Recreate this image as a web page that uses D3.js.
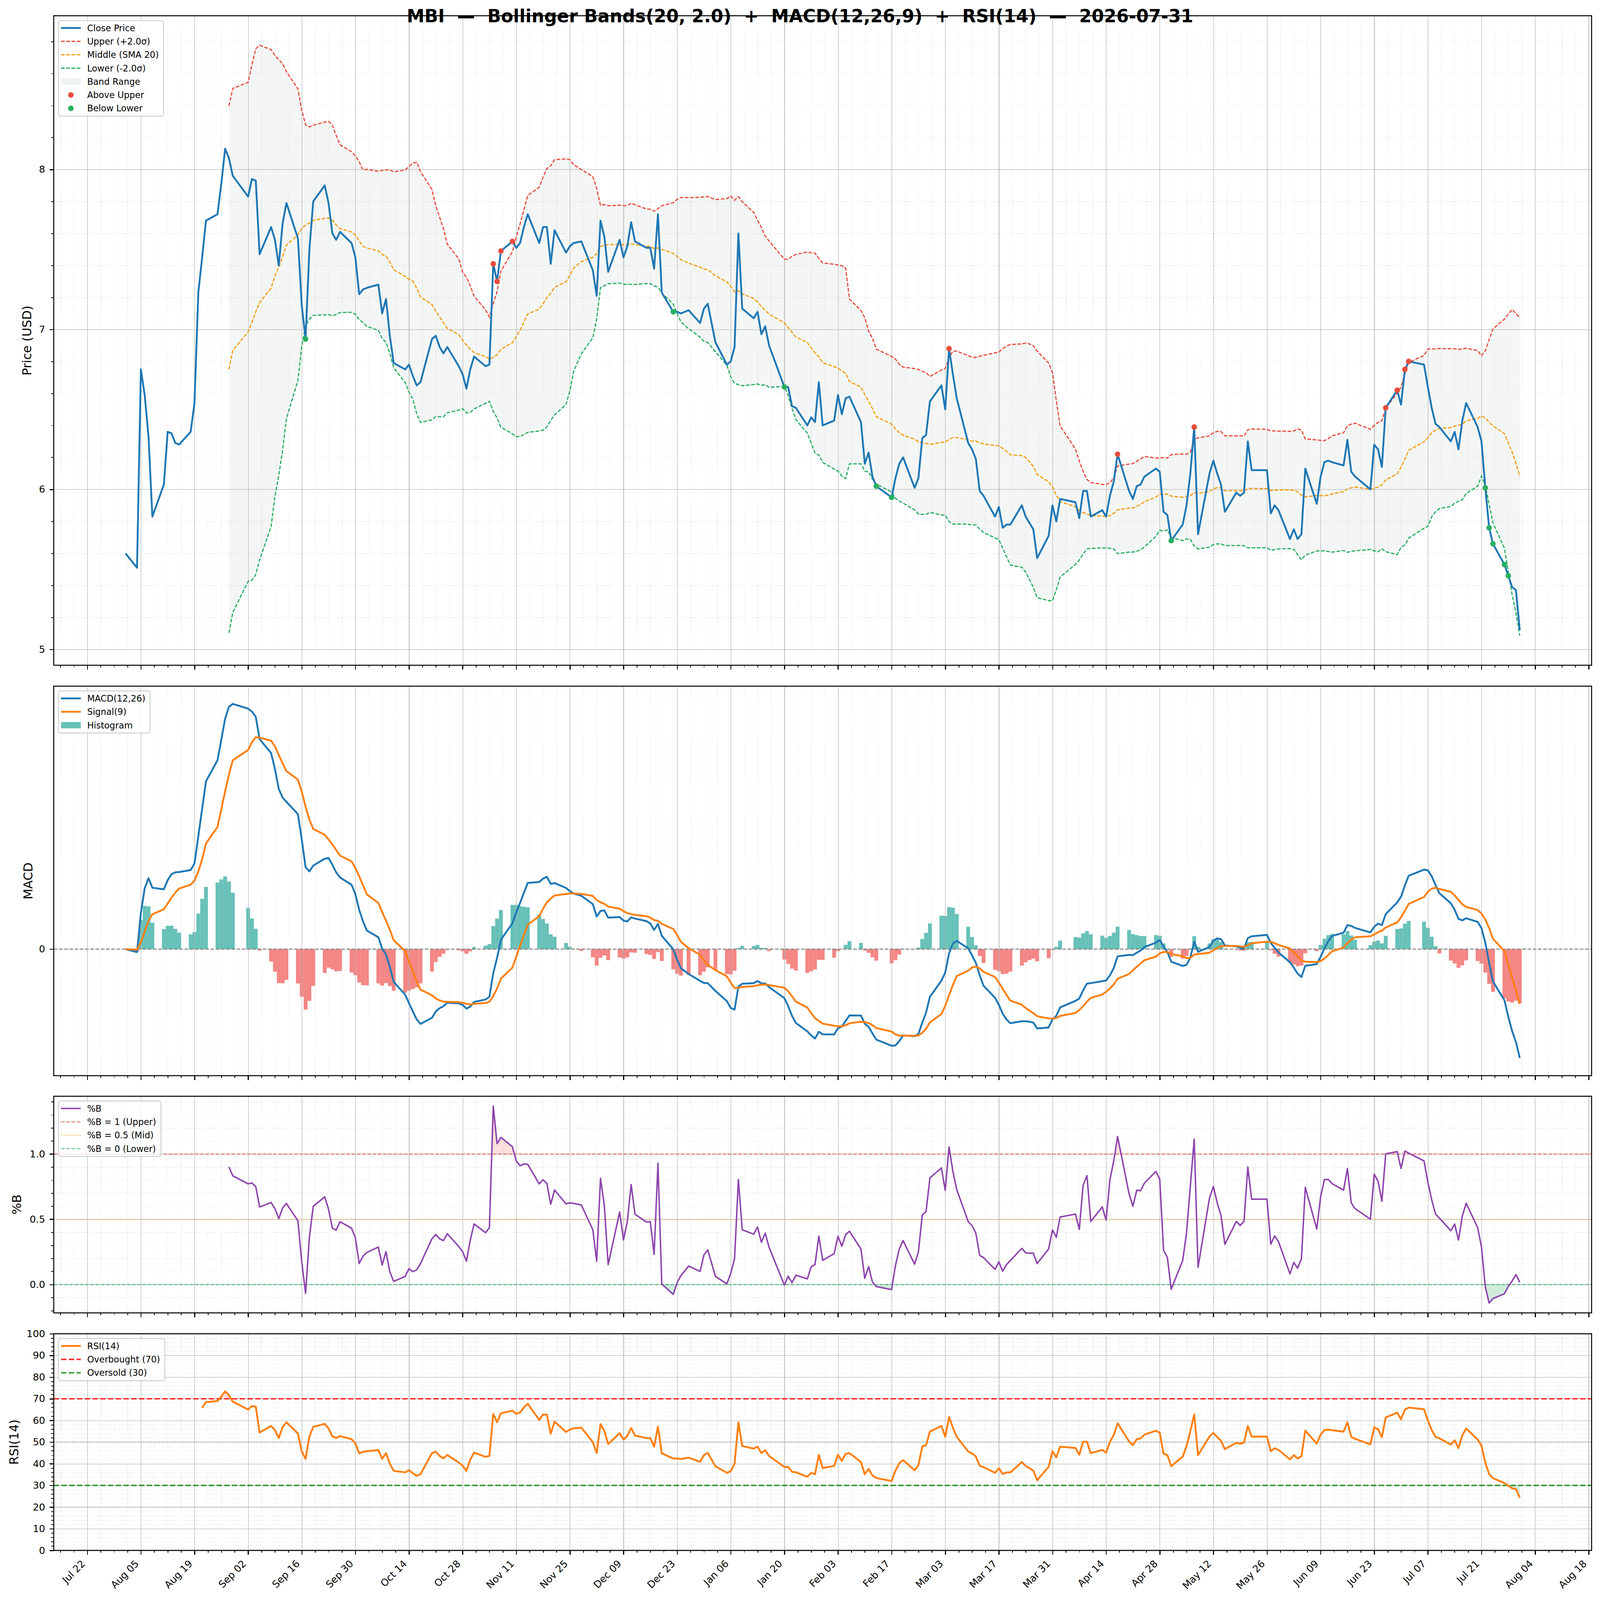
<!DOCTYPE html>
<html lang="en">
<head>
  <meta charset="utf-8">
  <title>MBI - Bollinger / MACD / RSI</title>
  <script src="https://cdn.jsdelivr.net/npm/d3@7"></script>
  <style>
    html, body { margin: 0; padding: 0; width: 100%; height: 100%; overflow: hidden; background: #fff; }
    svg { display: block; width: 100vw; height: 100vh; font-family: "DejaVu Sans", sans-serif; }
    .tick line { shape-rendering: crispEdges; }
  </style>
</head>
<body>
<script>
// ---- data (trading days, closing price in USD) ----
const dates = [
  "2025-08-01","2025-08-04","2025-08-05","2025-08-06","2025-08-07","2025-08-08","2025-08-11","2025-08-12","2025-08-13","2025-08-14","2025-08-15",
  "2025-08-18","2025-08-19","2025-08-20","2025-08-21","2025-08-22","2025-08-25","2025-08-26","2025-08-27","2025-08-28","2025-08-29",
  "2025-09-02","2025-09-03","2025-09-04","2025-09-05","2025-09-08","2025-09-09","2025-09-10","2025-09-11","2025-09-12","2025-09-15",
  "2025-09-16","2025-09-17","2025-09-18","2025-09-19","2025-09-22","2025-09-23","2025-09-24","2025-09-25","2025-09-26","2025-09-29","2025-09-30",
  "2025-10-01","2025-10-02","2025-10-03","2025-10-06","2025-10-07","2025-10-08","2025-10-09","2025-10-10","2025-10-13","2025-10-14","2025-10-15",
  "2025-10-16","2025-10-17","2025-10-20","2025-10-21","2025-10-22","2025-10-23","2025-10-24","2025-10-27","2025-10-28","2025-10-29","2025-10-30","2025-10-31",
  "2025-11-03","2025-11-04","2025-11-05","2025-11-06","2025-11-07","2025-11-10","2025-11-11","2025-11-12","2025-11-13","2025-11-14",
  "2025-11-17","2025-11-18","2025-11-19","2025-11-20","2025-11-21","2025-11-24","2025-11-25","2025-11-26","2025-11-28",
  "2025-12-01","2025-12-02","2025-12-03","2025-12-04","2025-12-05","2025-12-08","2025-12-09","2025-12-10","2025-12-11","2025-12-12",
  "2025-12-15","2025-12-16","2025-12-17","2025-12-18","2025-12-19","2025-12-22","2025-12-23","2025-12-24","2025-12-26","2025-12-29","2025-12-30","2025-12-31",
  "2026-01-02","2026-01-05","2026-01-06","2026-01-07","2026-01-08","2026-01-09","2026-01-12","2026-01-13","2026-01-14","2026-01-15","2026-01-16",
  "2026-01-20","2026-01-21","2026-01-22","2026-01-23","2026-01-26","2026-01-27","2026-01-28","2026-01-29","2026-01-30",
  "2026-02-02","2026-02-03","2026-02-04","2026-02-05","2026-02-06","2026-02-09","2026-02-10","2026-02-11","2026-02-12","2026-02-13",
  "2026-02-17","2026-02-18","2026-02-19","2026-02-20","2026-02-23","2026-02-24","2026-02-25","2026-02-26","2026-02-27",
  "2026-03-02","2026-03-03","2026-03-04","2026-03-05","2026-03-06","2026-03-09","2026-03-10","2026-03-11","2026-03-12","2026-03-13",
  "2026-03-16","2026-03-17","2026-03-18","2026-03-19","2026-03-20","2026-03-23","2026-03-24","2026-03-25","2026-03-26","2026-03-27","2026-03-30","2026-03-31",
  "2026-04-01","2026-04-02","2026-04-06","2026-04-07","2026-04-08","2026-04-09","2026-04-10","2026-04-13","2026-04-14","2026-04-15","2026-04-16","2026-04-17",
  "2026-04-20","2026-04-21","2026-04-22","2026-04-23","2026-04-24","2026-04-27","2026-04-28","2026-04-29","2026-04-30",
  "2026-05-01","2026-05-04","2026-05-05","2026-05-06","2026-05-07","2026-05-08","2026-05-11","2026-05-12","2026-05-13","2026-05-14","2026-05-15",
  "2026-05-18","2026-05-19","2026-05-20","2026-05-21","2026-05-22","2026-05-26","2026-05-27","2026-05-28","2026-05-29",
  "2026-06-01","2026-06-02","2026-06-03","2026-06-04","2026-06-05","2026-06-08","2026-06-09","2026-06-10","2026-06-11","2026-06-12",
  "2026-06-15","2026-06-16","2026-06-17","2026-06-18","2026-06-22","2026-06-23","2026-06-24","2026-06-25","2026-06-26","2026-06-29","2026-06-30",
  "2026-07-01","2026-07-02","2026-07-06","2026-07-07","2026-07-08","2026-07-09","2026-07-10","2026-07-13","2026-07-14","2026-07-15","2026-07-16","2026-07-17",
  "2026-07-20","2026-07-21","2026-07-22","2026-07-23","2026-07-24","2026-07-27","2026-07-28","2026-07-29","2026-07-30","2026-07-31"
];
const close = [
  5.60,5.51,6.75,6.59,6.33,5.83,6.03,6.36,6.35,6.29,6.28,
  6.36,6.54,7.23,7.45,7.68,7.72,7.91,8.13,8.07,7.96,
  7.83,7.94,7.93,7.47,7.64,7.56,7.40,7.66,7.79,7.57,
  7.15,6.94,7.50,7.80,7.90,7.79,7.60,7.56,7.61,7.54,7.45,
  7.22,7.25,7.26,7.28,7.10,7.19,6.96,6.79,6.75,6.78,6.71,
  6.65,6.67,6.94,6.96,6.89,6.85,6.89,6.77,6.72,6.63,6.75,6.83,
  6.77,6.78,7.41,7.30,7.49,7.55,7.51,7.54,7.64,7.72,
  7.54,7.64,7.64,7.41,7.62,7.48,7.52,7.54,7.55,
  7.37,7.21,7.68,7.58,7.36,7.56,7.45,7.52,7.67,7.55,
  7.51,7.51,7.38,7.72,7.23,7.11,7.11,7.10,7.12,7.04,7.13,7.16,
  6.92,6.78,6.80,6.89,7.60,7.13,7.07,7.11,6.97,7.02,6.90,
  6.64,6.64,6.52,6.51,6.40,6.45,6.42,6.67,6.40,
  6.43,6.59,6.47,6.57,6.58,6.42,6.16,6.23,6.08,6.02,
  5.95,6.07,6.16,6.20,6.01,6.07,6.32,6.34,6.55,
  6.65,6.50,6.88,6.72,6.57,6.29,6.25,6.19,5.99,5.96,
  5.83,5.89,5.76,5.78,5.78,5.90,5.83,5.79,5.75,5.57,5.71,5.90,
  5.80,5.94,5.92,5.82,5.99,5.99,5.83,5.87,5.83,5.96,6.05,6.22,
  5.99,5.94,6.02,6.03,6.08,6.13,6.11,5.86,5.84,
  5.68,5.78,5.90,6.10,6.39,5.72,6.10,6.18,6.10,6.03,5.86,
  5.98,5.96,5.98,6.30,6.12,6.12,5.85,5.90,5.87,
  5.69,5.75,5.69,5.72,6.13,5.91,6.08,6.17,6.18,6.17,
  6.15,6.31,6.11,6.08,6.00,6.28,6.25,6.14,6.51,6.62,6.53,
  6.75,6.80,6.78,6.64,6.51,6.41,6.39,6.30,6.36,6.25,6.43,6.54,
  6.39,6.30,6.01,5.76,5.66,5.53,5.46,5.39,5.37,5.12
];

// tick labels
const xTickDates = ["2025-07-22","2025-08-05","2025-08-19","2025-09-02","2025-09-16","2025-09-30","2025-10-14","2025-10-28",
  "2025-11-11","2025-11-25","2025-12-09","2025-12-23","2026-01-06","2026-01-20","2026-02-03","2026-02-17","2026-03-03",
  "2026-03-17","2026-03-31","2026-04-14","2026-04-28","2026-05-12","2026-05-26","2026-06-09","2026-06-23","2026-07-07",
  "2026-07-21","2026-08-04","2026-08-18"];
const priceTicks = [5, 6, 7, 8];
const macdTicks = [0];
const pbTicks = [0, 0.5, 1.0];
const rsiTicks = [0, 10, 20, 30, 40, 50, 60, 70, 80, 90, 100];

// indicator settings (from the title)
const bbPeriod = 20, bbK = 2.0;
const fastSpan = 12, slowSpan = 26, signalSpan = 9;
const rsiPeriod = 14;
const titleText = "MBI  \u2014  Bollinger Bands(20, 2.0)  +  MACD(12,26,9)  +  RSI(14)  \u2014  2026-07-31";

// ---- indicators ----
const mid = close.map((_, i) => i < bbPeriod - 1 ? null : d3.mean(close.slice(i - bbPeriod + 1, i + 1)));
const sd = close.map((_, i) => i < bbPeriod - 1 ? null : d3.deviation(close.slice(i - bbPeriod + 1, i + 1)));
const upper = mid.map((m, i) => m == null ? null : m + bbK * sd[i]);
const lower = mid.map((m, i) => m == null ? null : m - bbK * sd[i]);
const pctB = close.map((c, i) => upper[i] == null ? null : (c - lower[i]) / (upper[i] - lower[i]));

function ema(arr, span) {
  const a = 2 / (span + 1);
  let prev;
  return arr.map((v, i) => prev = (i === 0 ? v : a * v + (1 - a) * prev));
}
const emaFast = ema(close, fastSpan), emaSlow = ema(close, slowSpan);
const macd = emaFast.map((v, i) => v - emaSlow[i]);
const signal = ema(macd, signalSpan);
const hist = macd.map((v, i) => v - signal[i]);

const rsi = close.map(() => null);
{
  let ag = 0, al = 0;
  for (let i = 1; i < close.length; i++) {
    const ch = close[i] - close[i - 1], g = Math.max(ch, 0), l = Math.max(-ch, 0);
    if (i === 1) { ag = g; al = l; } else { ag += (g - ag) / rsiPeriod; al += (l - al) / rsiPeriod; }
    if (i >= rsiPeriod) rsi[i] = al === 0 ? 100 : 100 - 100 / (1 + ag / al);
  }
}

// ---- layout ----
const W = 4378, H = 4322;
const axL = 147, axR = 4355;
const P = {
  price: { top: 42.5, bottom: 1797 },
  macd:  { top: 1853.5, bottom: 2905.7 },
  pb:    { top: 2961.2, bottom: 3546.4 },
  rsi:   { top: 3602.8, bottom: 4188 }
};
const pt = 240 / 72;
const tickFs = 8 * pt, labelFs = 10 * pt, legFs = 24, titleFs = 48.8;
const DAY = 864e5;

const parse = d3.utcParse("%Y-%m-%d");
const dt = dates.map(parse);
const majors = xTickDates.map(parse);

const xs0 = +dt[0] - DAY / 2, xs1 = +dt[dt.length - 1] + DAY / 2, xPad = (xs1 - xs0) * 0.05;
const x = d3.scaleUtc().domain([new Date(xs0 - xPad), new Date(xs1 + xPad)]).range([axL, axR]);
const minors = [];
for (let k = -1; k < majors.length; k++) {
  const base = k < 0 ? +majors[0] - 14 * DAY : +majors[k];
  for (let j = 1; j < 4; j++) {
    const t = new Date(base + j * 3.5 * DAY);
    if (t >= x.domain()[0] && t <= x.domain()[1]) minors.push(t);
  }
}

function padded(vals) {
  const v = vals.filter(d => d != null);
  const lo = d3.min(v), hi = d3.max(v), p = (hi - lo) * 0.05;
  return [lo - p, hi + p];
}
function minorRange(dom, step, majorsY) {
  const out = [];
  for (let v = Math.ceil(dom[0] / step) * step; v <= dom[1] + 1e-9; v += step) {
    const r = Math.round(v / step) * step;
    if (!majorsY.some(m => Math.abs(m - r) < 1e-9)) out.push(r);
  }
  return out;
}

const yPrice = d3.scaleLinear().domain(padded(close.concat(upper, lower))).range([P.price.bottom, P.price.top]);
const yMacd = d3.scaleLinear().domain(padded(macd.concat(signal, hist, [0]))).range([P.macd.bottom, P.macd.top]);
const yPb = d3.scaleLinear().domain(padded(pctB)).range([P.pb.bottom, P.pb.top]);
const yRsi = d3.scaleLinear().domain([0, 100]).range([P.rsi.bottom, P.rsi.top]);

const svg = d3.select("body").append("svg")
  .attr("viewBox", `0 0 ${W} ${H}`).attr("preserveAspectRatio", "none");
svg.append("rect").attr("width", W).attr("height", H).attr("fill", "#fff");
const defs = svg.append("defs");

function panel(key, y, yTicks, yMinor, yFmt, showLabels, hGrid) {
  const p = P[key], h = p.bottom - p.top, w = axR - axL;
  defs.append("clipPath").attr("id", "clip-" + key)
    .append("rect").attr("x", axL).attr("y", p.top).attr("width", w).attr("height", h);
  const g = svg.append("g").attr("class", "panel-" + key);
  p.back = g.append("g").attr("clip-path", `url(#clip-${key})`);
  const grid = g.append("g");
  p.front = g.append("g").attr("clip-path", `url(#clip-${key})`);
  p.top_ = g.append("g");

  // grid lines
  grid.append("g").attr("transform", `translate(0,${p.bottom})`)
    .call(d3.axisBottom(x).tickValues(minors).tickSize(-h).tickFormat(""))
    .call(a => a.select(".domain").remove())
    .selectAll("line").attr("stroke", "#b0b0b0").attr("stroke-opacity", 0.35)
    .attr("stroke-width", 1.6).attr("stroke-dasharray", "1.6,2.6");
  if (hGrid) {
    grid.append("g").attr("transform", `translate(${axL},0)`)
      .call(d3.axisLeft(y).tickValues(yMinor).tickSize(-w).tickFormat(""))
      .call(a => a.select(".domain").remove())
      .selectAll("line").attr("stroke", "#b0b0b0").attr("stroke-opacity", 0.35)
      .attr("stroke-width", 1.6).attr("stroke-dasharray", "1.6,2.6");
    grid.append("g").attr("transform", `translate(${axL},0)`)
      .call(d3.axisLeft(y).tickValues(yTicks).tickSize(-w).tickFormat(""))
      .call(a => a.select(".domain").remove())
      .selectAll("line").attr("stroke", "#b0b0b0").attr("stroke-opacity", 0.6).attr("stroke-width", 2.4);
  }
  grid.append("g").attr("transform", `translate(0,${p.bottom})`)
    .call(d3.axisBottom(x).tickValues(majors).tickSize(-h).tickFormat(""))
    .call(a => a.select(".domain").remove())
    .selectAll("line").attr("stroke", "#b0b0b0").attr("stroke-opacity", 0.6).attr("stroke-width", 2.4);

  // ticks
  const ax = p.top_;
  ax.append("g").attr("transform", `translate(0,${p.bottom})`)
    .call(d3.axisBottom(x).tickValues(minors).tickSize(6.7).tickFormat(""))
    .call(a => a.select(".domain").remove())
    .selectAll("line").attr("stroke", "#000").attr("stroke-width", 2);
  const xa = ax.append("g").attr("transform", `translate(0,${p.bottom})`)
    .call(d3.axisBottom(x).tickValues(majors).tickSize(11.7).tickPadding(11.7)
      .tickFormat(showLabels ? d3.utcFormat("%b %d") : ""))
    .call(a => a.select(".domain").remove());
  xa.selectAll("line").attr("stroke", "#000").attr("stroke-width", 2.7);
  if (showLabels) {
    xa.attr("font-family", null).attr("font-size", null);
    xa.selectAll(".tick text").each(function () {
      const t = d3.select(this).attr("font-size", tickFs).attr("fill", "#000")
        .attr("y", 0).attr("dy", 0).attr("x", 0).attr("text-anchor", "start");
      const tw = this.getComputedTextLength(), c = Math.SQRT1_2;
      t.attr("transform", `translate(${-c * (tw + 0.24 * tickFs)},${23.3 + c * (tw + 0.76 * tickFs)}) rotate(-45)`);
    });
  }
  if (yMinor.length) {
    ax.append("g").attr("transform", `translate(${axL},0)`)
      .call(d3.axisLeft(y).tickValues(yMinor).tickSize(6.7).tickFormat(""))
      .call(a => a.select(".domain").remove())
      .selectAll("line").attr("stroke", "#000").attr("stroke-width", 2);
  }
  const ya = ax.append("g").attr("transform", `translate(${axL},0)`)
    .call(d3.axisLeft(y).tickValues(yTicks).tickSize(11.7).tickPadding(11.7).tickFormat(yFmt))
    .call(a => a.select(".domain").remove());
  ya.attr("font-family", null).attr("font-size", null);
  ya.selectAll("line").attr("stroke", "#000").attr("stroke-width", 2.7);
  ya.selectAll("text").attr("font-size", tickFs).attr("fill", "#000");

  ax.append("rect").attr("x", axL).attr("y", p.top).attr("width", w).attr("height", h)
    .attr("fill", "none").attr("stroke", "#000").attr("stroke-width", 2.7);
  return p;
}

function yLabel(key, text, cx) {
  const p = P[key], cy = (p.top + p.bottom) / 2;
  svg.append("text").attr("transform", `translate(${cx},${cy}) rotate(-90)`)
    .attr("text-anchor", "middle").attr("dominant-baseline", "central")
    .attr("font-size", labelFs).attr("fill", "#000").text(text);
}

function legend(key, entries) {
  const p = P[key], L = axL + 13, T = p.top + 13, row = 36.2;
  const g = svg.append("g");
  const box = g.append("rect").attr("x", L).attr("y", T).attr("rx", 6)
    .attr("fill", "#fff").attr("fill-opacity", 0.8).attr("stroke", "#cccccc").attr("stroke-width", 2.4);
  let maxW = 0;
  entries.forEach((e, i) => {
    const cy = T + 20 + i * row;
    if (e.type === "line") {
      g.append("line").attr("x1", L + 7).attr("x2", L + 61).attr("y1", cy).attr("y2", cy)
        .attr("stroke", e.color).attr("stroke-width", e.width).attr("stroke-opacity", e.opacity || 1)
        .attr("stroke-dasharray", e.dash || null);
    } else if (e.type === "patch") {
      g.append("rect").attr("x", L + 7).attr("y", cy - 8.5).attr("width", 54).attr("height", 17)
        .attr("fill", e.color).attr("fill-opacity", e.opacity);
    } else {
      g.append("circle").attr("cx", L + 34).attr("cy", cy).attr("r", 7.5).attr("fill", e.color);
    }
    const t = g.append("text").attr("x", L + 78.5).attr("y", cy).attr("dominant-baseline", "central")
      .attr("font-size", legFs).attr("fill", "#000").text(e.label);
    maxW = Math.max(maxW, t.node().getComputedTextLength());
  });
  box.attr("width", 78.5 + maxW + 13).attr("height", 41 + (entries.length - 1) * row);
}

const fmtInt = d3.format("d"), fmt1 = d3.format(".1f");
panel("price", yPrice, priceTicks, minorRange(yPrice.domain(), 0.2, priceTicks), fmtInt, false, true);
panel("macd", yMacd, macdTicks, [], fmtInt, false, false);
panel("pb", yPb, pbTicks, minorRange(yPb.domain(), 0.1, pbTicks), fmt1, false, true);
panel("rsi", yRsi, rsiTicks, minorRange(yRsi.domain(), 2, rsiTicks), fmtInt, true, true);

const idx = d3.range(close.length);
const lineOf = (arr, y) => d3.line().defined(i => arr[i] != null).x(i => x(dt[i])).y(i => y(arr[i]));

// ---- price panel ----
P.price.back.append("path").datum(idx)
  .attr("d", d3.area().defined(i => upper[i] != null).x(i => x(dt[i])).y0(i => yPrice(lower[i])).y1(i => yPrice(upper[i])))
  .attr("fill", "#95a5a6").attr("fill-opacity", 0.1);
const bandStyle = [[upper, "#e74c3c"], [mid, "#f39c12"], [lower, "#27ae60"]];
bandStyle.forEach(([arr, col]) => {
  P.price.front.append("path").datum(idx).attr("d", lineOf(arr, yPrice))
    .attr("fill", "none").attr("stroke", col).attr("stroke-width", 3.2).attr("stroke-dasharray", "10,4.3");
});
P.price.front.append("path").datum(idx).attr("d", lineOf(close, yPrice))
  .attr("fill", "none").attr("stroke", "#1f77b4").attr("stroke-width", 5).attr("stroke-linejoin", "round");
P.price.front.selectAll("circle.above").data(idx.filter(i => upper[i] != null && close[i] > upper[i]))
  .join("circle").attr("class", "above").attr("cx", i => x(dt[i])).attr("cy", i => yPrice(close[i]))
  .attr("r", 7.5).attr("fill", "#e74c3c");
P.price.front.selectAll("circle.below").data(idx.filter(i => lower[i] != null && close[i] < lower[i]))
  .join("circle").attr("class", "below").attr("cx", i => x(dt[i])).attr("cy", i => yPrice(close[i]))
  .attr("r", 7.5).attr("fill", "#27ae60");

// ---- MACD panel ----
P.macd.back.selectAll("rect.bar").data(idx).join("rect").attr("class", "bar")
  .attr("x", i => x(new Date(+dt[i] - DAY / 2)))
  .attr("width", i => x(new Date(+dt[i] + DAY / 2)) - x(new Date(+dt[i] - DAY / 2)))
  .attr("y", i => yMacd(Math.max(0, hist[i])))
  .attr("height", i => Math.abs(yMacd(hist[i]) - yMacd(0)))
  .attr("fill", i => hist[i] >= 0 ? "#26a69a" : "#ef5350").attr("fill-opacity", 0.7);
P.macd.front.append("line").attr("x1", axL).attr("x2", axR).attr("y1", yMacd(0)).attr("y2", yMacd(0))
  .attr("stroke", "#808080").attr("stroke-width", 2.7).attr("stroke-dasharray", "10,4.3");
P.macd.front.append("path").datum(idx).attr("d", lineOf(macd, yMacd))
  .attr("fill", "none").attr("stroke", "#1f77b4").attr("stroke-width", 5).attr("stroke-linejoin", "round");
P.macd.front.append("path").datum(idx).attr("d", lineOf(signal, yMacd))
  .attr("fill", "none").attr("stroke", "#ff7f0e").attr("stroke-width", 5).attr("stroke-linejoin", "round");

// ---- %B panel ----
function thresholdFill(p, arr, y, level, above, color, op) {
  const id = `clip-${p}-${level}`;
  const r = P[p];
  defs.append("clipPath").attr("id", id).append("rect").attr("x", axL).attr("width", axR - axL)
    .attr("y", above ? r.top : y(level)).attr("height", above ? y(level) - r.top : r.bottom - y(level));
  P[p].back.append("g").attr("clip-path", `url(#${id})`).append("path").datum(idx)
    .attr("d", d3.area().defined(i => arr[i] != null).x(i => x(dt[i])).y0(y(level)).y1(i => y(arr[i])))
    .attr("fill", color).attr("fill-opacity", op);
}
thresholdFill("pb", pctB, yPb, 1, true, "#e74c3c", 0.18);
thresholdFill("pb", pctB, yPb, 0, false, "#27ae60", 0.22);
const hl = (p, y, v, col, op, w, dash) => P[p].front.append("line").attr("x1", axL).attr("x2", axR)
  .attr("y1", y(v)).attr("y2", y(v)).attr("stroke", col).attr("stroke-opacity", op)
  .attr("stroke-width", w).attr("stroke-dasharray", dash);
hl("pb", yPb, 1, "#e74c3c", 0.7, 2.7, "10,4.3");
hl("pb", yPb, 0.5, "#f39c12", 0.7, 2.7, "2.7,4.5");
hl("pb", yPb, 0, "#27ae60", 0.7, 2.7, "10,4.3");
P.pb.front.append("path").datum(idx).attr("d", lineOf(pctB, yPb))
  .attr("fill", "none").attr("stroke", "#8e44ad").attr("stroke-width", 4).attr("stroke-linejoin", "round");

// ---- RSI panel ----
thresholdFill("rsi", rsi, yRsi, 70, true, "#e74c3c", 0.18);
thresholdFill("rsi", rsi, yRsi, 30, false, "#27ae60", 0.22);
hl("rsi", yRsi, 70, "red", 0.8, 4, "14.8,6.4");
hl("rsi", yRsi, 30, "green", 0.8, 4, "14.8,6.4");
hl("rsi", yRsi, 50, "gray", 0.6, 2.7, "2.7,4.5");
P.rsi.front.append("path").datum(idx).attr("d", lineOf(rsi, yRsi))
  .attr("fill", "none").attr("stroke", "#ff7f0e").attr("stroke-width", 5).attr("stroke-linejoin", "round");

// ---- labels, legends, title ----
yLabel("price", "Price (USD)", 73.7);
yLabel("macd", "MACD", 77);
yLabel("pb", "%B", 45.6);
yLabel("rsi", "RSI(14)", 38.6);

legend("price", [
  { type: "line", label: "Close Price", color: "#1f77b4", width: 5 },
  { type: "line", label: "Upper (+2.0\u03c3)", color: "#e74c3c", width: 3.2, dash: "10,4.3" },
  { type: "line", label: "Middle (SMA 20)", color: "#f39c12", width: 3.2, dash: "10,4.3" },
  { type: "line", label: "Lower (-2.0\u03c3)", color: "#27ae60", width: 3.2, dash: "10,4.3" },
  { type: "patch", label: "Band Range", color: "#95a5a6", opacity: 0.15 },
  { type: "dot", label: "Above Upper", color: "#e74c3c" },
  { type: "dot", label: "Below Lower", color: "#27ae60" }
]);
legend("macd", [
  { type: "line", label: "MACD(12,26)", color: "#1f77b4", width: 5 },
  { type: "line", label: "Signal(9)", color: "#ff7f0e", width: 5 },
  { type: "patch", label: "Histogram", color: "#26a69a", opacity: 0.7 }
]);
legend("pb", [
  { type: "line", label: "%B", color: "#8e44ad", width: 4 },
  { type: "line", label: "%B = 1 (Upper)", color: "#e74c3c", width: 2.7, opacity: 0.7, dash: "10,4.3" },
  { type: "line", label: "%B = 0.5 (Mid)", color: "#f39c12", width: 2.7, opacity: 0.7, dash: "2.7,4.5" },
  { type: "line", label: "%B = 0 (Lower)", color: "#27ae60", width: 2.7, opacity: 0.7, dash: "10,4.3" }
]);
legend("rsi", [
  { type: "line", label: "RSI(14)", color: "#ff7f0e", width: 5 },
  { type: "line", label: "Overbought (70)", color: "red", width: 4, opacity: 0.8, dash: "14.8,6.4" },
  { type: "line", label: "Oversold (30)", color: "green", width: 4, opacity: 0.8, dash: "14.8,6.4" }
]);

svg.append("text").attr("x", W / 2).attr("y", 60).attr("text-anchor", "middle")
  .attr("font-size", titleFs).attr("font-weight", "bold").attr("fill", "#000")
  .style("white-space", "pre").text(titleText);
</script>
</body>
</html>
